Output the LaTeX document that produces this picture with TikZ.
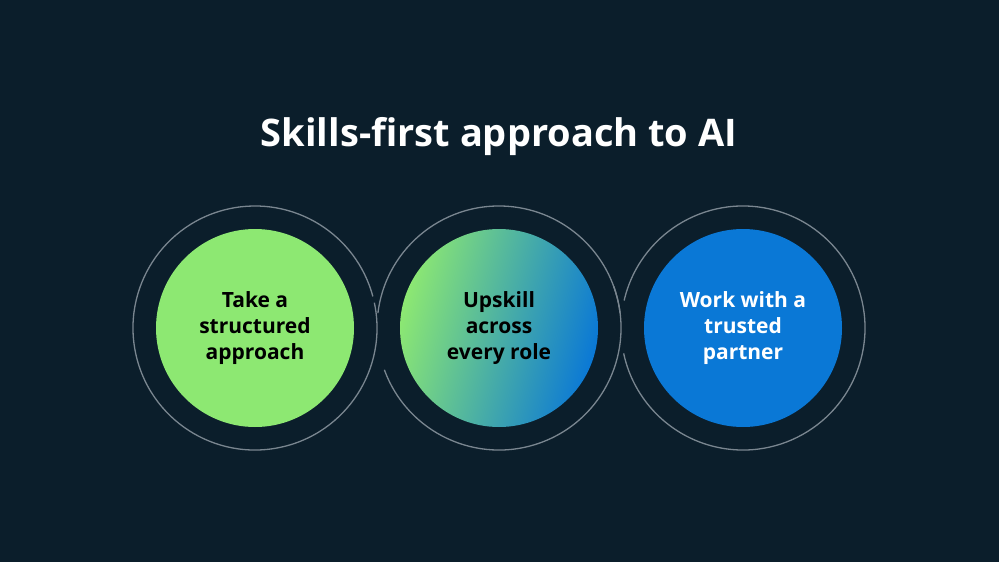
\documentclass[tikz,border=0pt]{standalone}
\usepackage{fontspec}
\setmainfont{Open Sans}
\definecolor{bg}{HTML}{0B1E2B}
\definecolor{gr}{HTML}{8DE872}
\definecolor{bl}{HTML}{0A78D6}
\definecolor{ring}{HTML}{7A8690}
\begin{document}
\begin{tikzpicture}[x=1pt,y=-1pt,
  ringarc/.style={draw=ring,line width=1.3pt},
  disc/.style={circle,minimum size=198pt,inner sep=0pt,align=center,font=\fontsize{21}{26}\selectfont\bfseries}]
\fill[bg] (0,0) rectangle (999,562);
\useasboundingbox (0,0) rectangle (999,562);
\node[font=\fontsize{38}{44}\selectfont\bfseries,text=white] (title) at (499,137) {Skills-first approach to AI};
\draw[ringarc] (255,328) ++(-12:122) arc[start angle=-12,end angle=345,radius=122];
\draw[ringarc] (499,328) ++(-20:122) arc[start angle=-20,end angle=160,radius=122];
\draw[ringarc] (499,328) ++(187:122) arc[start angle=187,end angle=353,radius=122];
\draw[ringarc] (743,328) ++(193:122) arc[start angle=193,end angle=528,radius=122];
\node[disc,fill=gr,text=black] (a) at (255,328) {Take a\\structured\\approach};
\node[disc,left color=gr,right color=bl,shading angle=75,text=black] (b) at (499,328) {Upskill\\across\\every role};
\node[disc,fill=bl,text=white] (c) at (743,328) {Work with a\\trusted\\partner};
\end{tikzpicture}
\end{document}
